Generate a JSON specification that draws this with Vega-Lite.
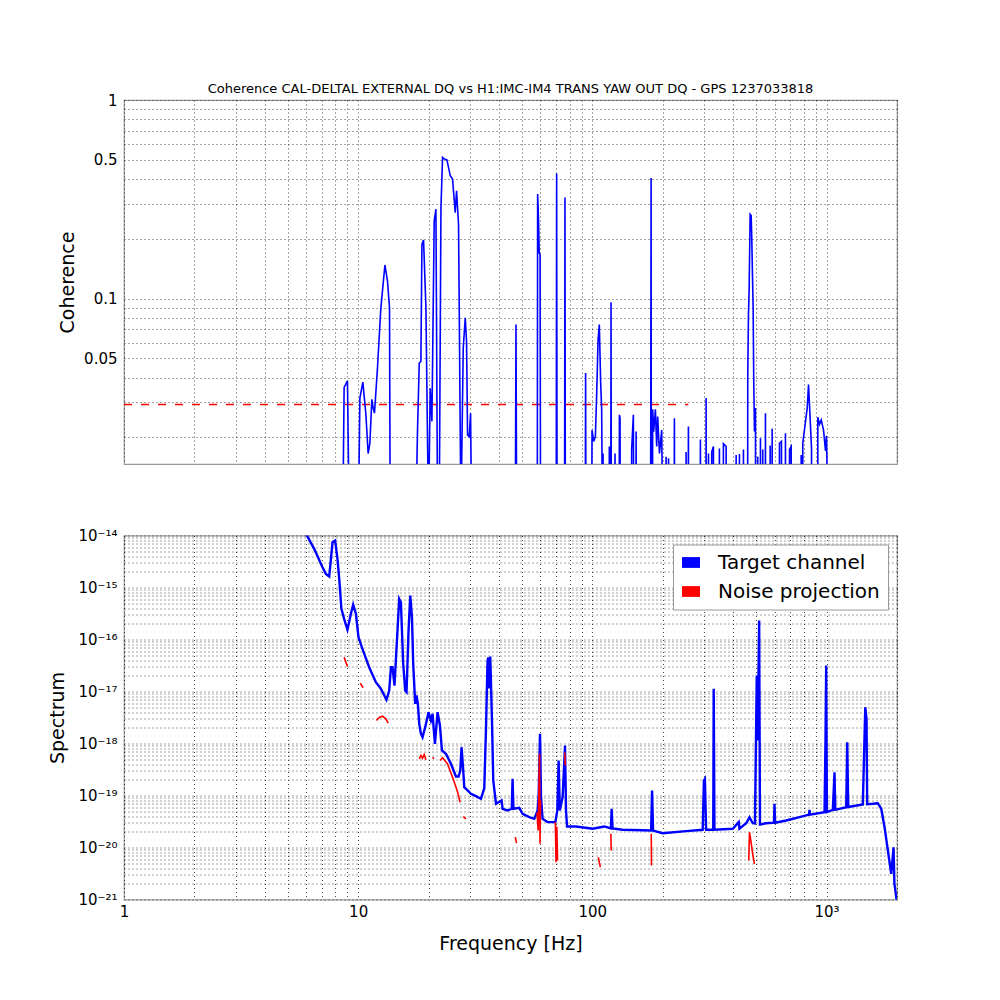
{
  "$schema": "https://vega.github.io/schema/vega-lite/v6.json",
  "padding": {"left": 48, "top": 82, "right": 5, "bottom": 5},
  "background": "white",
  "datasets": {
    "coh": [
      {"f": 1, "c": 0.008}, {"f": 8.6, "c": 0.008}, {"f": 8.71, "c": 0.0357}, {"f": 8.85, "c": 0.037}, {"f": 9.0, "c": 0.0386}, {"f": 9.15, "c": 0.008},
      {"f": 10.03, "c": 0.008}, {"f": 10.17, "c": 0.0316}, {"f": 10.47, "c": 0.038}, {"f": 10.79, "c": 0.0261}, {"f": 11.03, "c": 0.0166}, {"f": 11.22, "c": 0.0187},
      {"f": 11.44, "c": 0.0311}, {"f": 11.59, "c": 0.0281}, {"f": 11.74, "c": 0.0265}, {"f": 12.09, "c": 0.0447}, {"f": 12.5, "c": 0.0899}, {"f": 13.01, "c": 0.1477},
      {"f": 13.34, "c": 0.1226}, {"f": 13.61, "c": 0.0899}, {"f": 13.7, "c": 0.008}, {"f": 17.64, "c": 0.008}, {"f": 17.92, "c": 0.0214}, {"f": 18.23, "c": 0.0474},
      {"f": 18.53, "c": 0.0483}, {"f": 18.72, "c": 0.188}, {"f": 19.02, "c": 0.197}, {"f": 19.47, "c": 0.0899}, {"f": 19.78, "c": 0.0191}, {"f": 19.97, "c": 0.008},
      {"f": 20.31, "c": 0.0354}, {"f": 20.65, "c": 0.0241}, {"f": 21.12, "c": 0.246}, {"f": 21.48, "c": 0.282}, {"f": 21.83, "c": 0.008}, {"f": 22.19, "c": 0.008},
      {"f": 22.57, "c": 0.287}, {"f": 22.93, "c": 0.514}, {"f": 23.31, "c": 0.505}, {"f": 23.93, "c": 0.499}, {"f": 24.31, "c": 0.458}, {"f": 24.73, "c": 0.416},
      {"f": 25.29, "c": 0.4}, {"f": 25.97, "c": 0.271}, {"f": 26.31, "c": 0.349}, {"f": 26.83, "c": 0.237}, {"f": 27.47, "c": 0.008}, {"f": 28.1, "c": 0.0564},
      {"f": 28.66, "c": 0.08}, {"f": 29.03, "c": 0.061}, {"f": 29.32, "c": 0.0206}, {"f": 29.82, "c": 0.0202}, {"f": 30.2, "c": 0.0265}, {"f": 30.5, "c": 0.008},
      {"f": 46.9, "c": 0.008}, {"f": 47.2, "c": 0.0741}, {"f": 47.5, "c": 0.008},
      {"f": 58.2, "c": 0.008}, {"f": 58.4, "c": 0.336}, {"f": 58.9, "c": 0.25}, {"f": 59.3, "c": 0.17}, {"f": 59.8, "c": 0.167}, {"f": 60.1, "c": 0.008},
      {"f": 70.1, "c": 0.008}, {"f": 70.4, "c": 0.427}, {"f": 70.7, "c": 0.008},
      {"f": 76.1, "c": 0.008}, {"f": 76.4, "c": 0.323}, {"f": 76.7, "c": 0.008},
      {"f": 93.3, "c": 0.008}, {"f": 93.6, "c": 0.0422}, {"f": 93.9, "c": 0.008},
      {"f": 99.4, "c": 0.008}, {"f": 99.7, "c": 0.0218}, {"f": 101.3, "c": 0.0191}, {"f": 103.0, "c": 0.0202}, {"f": 104.3, "c": 0.0322}, {"f": 105.8, "c": 0.0622},
      {"f": 107.1, "c": 0.0741}, {"f": 108.5, "c": 0.0383}, {"f": 109.6, "c": 0.0277}, {"f": 110.4, "c": 0.008}, {"f": 111.1, "c": 0.0166}, {"f": 111.6, "c": 0.008},
      {"f": 117.9, "c": 0.008}, {"f": 118.2, "c": 0.018}, {"f": 118.6, "c": 0.008}, {"f": 119.9, "c": 0.008}, {"f": 120.2, "c": 0.096}, {"f": 120.5, "c": 0.008},
      {"f": 124.7, "c": 0.008}, {"f": 125.0, "c": 0.0166}, {"f": 125.3, "c": 0.008},
      {"f": 130.2, "c": 0.008}, {"f": 130.5, "c": 0.026}, {"f": 131.3, "c": 0.025}, {"f": 131.6, "c": 0.008},
      {"f": 146.9, "c": 0.008}, {"f": 147.2, "c": 0.0174}, {"f": 149.7, "c": 0.026}, {"f": 150.2, "c": 0.008}, {"f": 153.5, "c": 0.008}, {"f": 153.8, "c": 0.0214}, {"f": 154.1, "c": 0.008},
      {"f": 177.3, "c": 0.008}, {"f": 177.6, "c": 0.024}, {"f": 178.2, "c": 0.405}, {"f": 178.6, "c": 0.008},
      {"f": 180.7, "c": 0.008}, {"f": 181.0, "c": 0.0277}, {"f": 182.8, "c": 0.0214}, {"f": 185.9, "c": 0.0277}, {"f": 188.3, "c": 0.018}, {"f": 190.1, "c": 0.0255},
      {"f": 193.5, "c": 0.0166}, {"f": 197.8, "c": 0.0218}, {"f": 199.7, "c": 0.008},
      {"f": 206, "c": 0.008}, {"f": 206.5, "c": 0.016}, {"f": 207, "c": 0.008}, {"f": 211, "c": 0.008}, {"f": 211.5, "c": 0.0157}, {"f": 212, "c": 0.008},
      {"f": 223.6, "c": 0.008}, {"f": 224.1, "c": 0.025}, {"f": 224.6, "c": 0.008},
      {"f": 251, "c": 0.008}, {"f": 251.4, "c": 0.0169}, {"f": 251.8, "c": 0.008}, {"f": 256.8, "c": 0.008}, {"f": 257.2, "c": 0.0227}, {"f": 257.6, "c": 0.008},
      {"f": 289, "c": 0.008}, {"f": 289.4, "c": 0.0195}, {"f": 289.8, "c": 0.008},
      {"f": 305.7, "c": 0.008}, {"f": 306.1, "c": 0.0316}, {"f": 306.5, "c": 0.008}, {"f": 313, "c": 0.008}, {"f": 313.3, "c": 0.0166}, {"f": 313.7, "c": 0.008},
      {"f": 323, "c": 0.008}, {"f": 323.5, "c": 0.0169}, {"f": 328.9, "c": 0.018}, {"f": 329.3, "c": 0.008},
      {"f": 348.5, "c": 0.008}, {"f": 348.9, "c": 0.0176}, {"f": 349.3, "c": 0.008},
      {"f": 362.5, "c": 0.008}, {"f": 362.9, "c": 0.0186}, {"f": 372.7, "c": 0.018}, {"f": 373.1, "c": 0.008},
      {"f": 411, "c": 0.008}, {"f": 411.3, "c": 0.0163}, {"f": 411.7, "c": 0.008}, {"f": 424.5, "c": 0.008}, {"f": 424.8, "c": 0.0165}, {"f": 425.1, "c": 0.008},
      {"f": 441.5, "c": 0.008}, {"f": 441.9, "c": 0.0174}, {"f": 442.3, "c": 0.008},
      {"f": 460.5, "c": 0.008}, {"f": 461.0, "c": 0.0414}, {"f": 464.2, "c": 0.0832}, {"f": 467.4, "c": 0.1134}, {"f": 472.0, "c": 0.266}, {"f": 476.7, "c": 0.262},
      {"f": 479.5, "c": 0.203}, {"f": 482.8, "c": 0.1325}, {"f": 486.1, "c": 0.0899}, {"f": 489.0, "c": 0.0383}, {"f": 492.4, "c": 0.0214}, {"f": 497.2, "c": 0.0281}, {"f": 498, "c": 0.008},
      {"f": 508.2, "c": 0.008}, {"f": 508.6, "c": 0.016}, {"f": 509, "c": 0.008},
      {"f": 521.9, "c": 0.008}, {"f": 522.3, "c": 0.0198}, {"f": 522.7, "c": 0.008},
      {"f": 534, "c": 0.008}, {"f": 534.3, "c": 0.0174}, {"f": 535, "c": 0.008}, {"f": 548.2, "c": 0.008}, {"f": 548.6, "c": 0.0265}, {"f": 549, "c": 0.008},
      {"f": 574.2, "c": 0.008}, {"f": 574.6, "c": 0.0182}, {"f": 575, "c": 0.008}, {"f": 585.6, "c": 0.008}, {"f": 586.0, "c": 0.0221}, {"f": 586.4, "c": 0.008},
      {"f": 629.3, "c": 0.008}, {"f": 629.7, "c": 0.0187}, {"f": 642.2, "c": 0.0191}, {"f": 642.6, "c": 0.008},
      {"f": 667.5, "c": 0.008}, {"f": 667.9, "c": 0.021}, {"f": 668.3, "c": 0.008},
      {"f": 694.7, "c": 0.008}, {"f": 695.1, "c": 0.0174}, {"f": 706.6, "c": 0.018}, {"f": 707, "c": 0.008},
      {"f": 779.4, "c": 0.008}, {"f": 779.8, "c": 0.0163}, {"f": 780.5, "c": 0.008}, {"f": 791.4, "c": 0.008}, {"f": 792, "c": 0.0187},
      {"f": 813.5, "c": 0.0241}, {"f": 827.2, "c": 0.0281}, {"f": 837.9, "c": 0.0369},
      {"f": 848.6, "c": 0.027}, {"f": 863, "c": 0.0176}, {"f": 863.5, "c": 0.008},
      {"f": 917.8, "c": 0.008}, {"f": 918.2, "c": 0.0253}, {"f": 933.7, "c": 0.0233}, {"f": 949.6, "c": 0.0245}, {"f": 971.1, "c": 0.0218}, {"f": 990.3, "c": 0.0171},
      {"f": 1000, "c": 0.0204}, {"f": 1013, "c": 0.008}, {"f": 2000, "c": 0.008}
    ],
    "thr": [
      {"f": 1, "c": 0.0293}, {"f": 257, "c": 0.0293}
    ],
    "spec": [
      {"f": 1, "s": 1e-12}, {"f": 5.38, "s": 1.94e-14}, {"f": 6.07, "s": 9.6e-15}, {"f": 6.49, "s": 5.55e-15}, {"f": 7.04, "s": 2.45e-15}, {"f": 7.28, "s": 1.83e-15},
      {"f": 7.52, "s": 1.63e-15}, {"f": 7.64, "s": 3.31e-15}, {"f": 7.77, "s": 7.43e-15}, {"f": 7.97, "s": 8.0e-15}, {"f": 8.16, "s": 3.56e-15}, {"f": 8.29, "s": 1.58e-15},
      {"f": 8.48, "s": 3.89e-16}, {"f": 8.71, "s": 2.5e-16}, {"f": 9.0, "s": 1.54e-16}, {"f": 9.31, "s": 3.12e-16}, {"f": 9.52, "s": 4.71e-16}, {"f": 9.78, "s": 3.12e-16},
      {"f": 10.03, "s": 1.11e-16}, {"f": 10.43, "s": 6.62e-17}, {"f": 11.14, "s": 2.93e-17}, {"f": 11.9, "s": 1.51e-17}, {"f": 12.5, "s": 1.13e-17}, {"f": 13.21, "s": 6.92e-18},
      {"f": 13.57, "s": 1.04e-17}, {"f": 13.8, "s": 2.93e-17}, {"f": 14.02, "s": 2.93e-17}, {"f": 14.29, "s": 1.3e-17}, {"f": 14.72, "s": 1.49e-16}, {"f": 14.97, "s": 6.06e-16},
      {"f": 15.22, "s": 5.21e-16}, {"f": 15.57, "s": 3.41e-17}, {"f": 15.88, "s": 1.04e-17}, {"f": 16.09, "s": 9.7e-18}, {"f": 16.41, "s": 1.49e-16}, {"f": 16.69, "s": 7.02e-16},
      {"f": 16.97, "s": 2.69e-16}, {"f": 17.18, "s": 3.41e-17}, {"f": 17.52, "s": 5.79e-18}, {"f": 17.75, "s": 8.37e-18}, {"f": 17.99, "s": 5.79e-18}, {"f": 18.23, "s": 2.39e-18},
      {"f": 18.53, "s": 1.54e-18}, {"f": 18.83, "s": 1.32e-18}, {"f": 19.33, "s": 2.06e-18}, {"f": 19.97, "s": 4.0e-18}, {"f": 20.45, "s": 2.77e-18}, {"f": 20.78, "s": 3.72e-18},
      {"f": 21.27, "s": 9.86e-19}, {"f": 21.83, "s": 4.0e-18}, {"f": 22.34, "s": 2.22e-18}, {"f": 22.79, "s": 7.33e-19}, {"f": 23.7, "s": 6.33e-19}, {"f": 24.9, "s": 4.07e-19},
      {"f": 26.16, "s": 2.32e-19}, {"f": 26.83, "s": 2.32e-19}, {"f": 27.29, "s": 3.03e-19}, {"f": 27.64, "s": 8.49e-19}, {"f": 28.1, "s": 3.03e-19}, {"f": 28.38, "s": 1.45e-19},
      {"f": 29.32, "s": 1.25e-19}, {"f": 30.31, "s": 1.08e-19}, {"f": 31.84, "s": 9.7e-20}, {"f": 33.45, "s": 8.65e-20}, {"f": 34.32, "s": 1.25e-19}, {"f": 34.55, "s": 1.35e-19},
      {"f": 35.13, "s": 1.78e-18}, {"f": 35.69, "s": 3.94e-17}, {"f": 35.94, "s": 4.51e-17}, {"f": 36.29, "s": 1.14e-17}, {"f": 36.65, "s": 4.71e-17}, {"f": 37.27, "s": 2.77e-18},
      {"f": 37.75, "s": 1.94e-19}, {"f": 38.78, "s": 6.92e-20}, {"f": 40.97, "s": 8.01e-20}, {"f": 41.38, "s": 5.55e-20}, {"f": 43.45, "s": 5.15e-20}, {"f": 45.29, "s": 5.55e-20},
      {"f": 45.64, "s": 2.09e-19}, {"f": 46.04, "s": 5.55e-20}, {"f": 48.75, "s": 5.8e-20}, {"f": 50.36, "s": 4.44e-20}, {"f": 53.81, "s": 3.83e-20}, {"f": 56.5, "s": 3.56e-20},
      {"f": 58.38, "s": 5.15e-20}, {"f": 58.96, "s": 9.27e-20}, {"f": 59.78, "s": 1.54e-18}, {"f": 60.37, "s": 9.27e-20}, {"f": 61.32, "s": 3.56e-20}, {"f": 64.41, "s": 3.07e-20},
      {"f": 69.5, "s": 3.07e-20}, {"f": 70.87, "s": 5.15e-20}, {"f": 71.78, "s": 4.71e-19}, {"f": 72.63, "s": 5.15e-20}, {"f": 74.67, "s": 9.27e-20}, {"f": 76.44, "s": 9.16e-19},
      {"f": 77.2, "s": 5.15e-20}, {"f": 77.97, "s": 2.54e-20}, {"f": 85.18, "s": 2.54e-20}, {"f": 100.3, "s": 2.29e-20}, {"f": 112.5, "s": 2.54e-20}, {"f": 120.0, "s": 2.32e-20},
      {"f": 120.9, "s": 5.55e-20}, {"f": 122.0, "s": 2.32e-20}, {"f": 134.8, "s": 2.19e-20}, {"f": 178.2, "s": 2.12e-20}, {"f": 179.9, "s": 1.25e-19}, {"f": 181.7, "s": 2.12e-20},
      {"f": 199.7, "s": 1.88e-20}, {"f": 251.4, "s": 2.06e-20}, {"f": 296.0, "s": 2.19e-20}, {"f": 299.5, "s": 1.94e-19}, {"f": 302.5, "s": 2.09e-19}, {"f": 306.1, "s": 2.2e-20},
      {"f": 328.3, "s": 2.2e-20}, {"f": 329.9, "s": 1.13e-17}, {"f": 332.2, "s": 2.2e-20}, {"f": 397.8, "s": 2.29e-20}, {"f": 421.9, "s": 3.07e-20}, {"f": 424.8, "s": 2.3e-20},
      {"f": 453.9, "s": 2.93e-20}, {"f": 468.9, "s": 3.83e-20}, {"f": 484.2, "s": 2.93e-20}, {"f": 494.8, "s": 2.9e-20}, {"f": 499.7, "s": 1.14e-18}, {"f": 503.7, "s": 2.03e-17},
      {"f": 508.2, "s": 1.14e-18}, {"f": 515.7, "s": 2.32e-16}, {"f": 519.8, "s": 2.77e-20}, {"f": 552.4, "s": 2.93e-20}, {"f": 596.6, "s": 3.0e-20}, {"f": 599.5, "s": 6.92e-20},
      {"f": 603.6, "s": 3.0e-20}, {"f": 672.6, "s": 3.3e-20}, {"f": 766.6, "s": 3.83e-20}, {"f": 842.0, "s": 4.3e-20}, {"f": 846.2, "s": 5.31e-20}, {"f": 850.5, "s": 4.3e-20},
      {"f": 980.6, "s": 4.77e-20}, {"f": 990.2, "s": 1.14e-18}, {"f": 997, "s": 3.16e-17}, {"f": 1004, "s": 4.8e-20}, {"f": 1064, "s": 5.31e-20}, {"f": 1082, "s": 2.8e-19},
      {"f": 1090, "s": 5.3e-20}, {"f": 1214, "s": 5.96e-20}, {"f": 1226, "s": 1.06e-18}, {"f": 1238, "s": 6e-20}, {"f": 1429, "s": 6.71e-20}, {"f": 1464, "s": 4.99e-18},
      {"f": 1482, "s": 2.99e-18}, {"f": 1492, "s": 6.8e-20}, {"f": 1578, "s": 6.92e-20}, {"f": 1657, "s": 7.11e-20}, {"f": 1713, "s": 5.55e-20}, {"f": 1770, "s": 2.45e-20},
      {"f": 1828, "s": 8.75e-21}, {"f": 1890, "s": 3.12e-21}, {"f": 1933, "s": 1.01e-20}, {"f": 1950, "s": 2e-21}, {"f": 1986, "s": 1.1e-21}, {"f": 2000, "s": 5e-22}
    ],
    "noise": [
      {"seg": 1, "f": 8.71, "s": 4.57e-17}, {"seg": 1, "f": 9.0, "s": 3.03e-17},
      {"seg": 2, "f": 10.2, "s": 1.45e-17}, {"seg": 2, "f": 10.5, "s": 1.18e-17},
      {"seg": 3, "f": 11.97, "s": 2.77e-18}, {"seg": 3, "f": 12.3, "s": 3.16e-18}, {"seg": 3, "f": 12.7, "s": 3.35e-18}, {"seg": 3, "f": 13.13, "s": 2.99e-18}, {"seg": 3, "f": 13.43, "s": 2.46e-18},
      {"seg": 4, "f": 18.23, "s": 5.08e-19}, {"seg": 4, "f": 18.53, "s": 5.88e-19}, {"seg": 4, "f": 18.83, "s": 5.2e-19}, {"seg": 4, "f": 19.14, "s": 6.14e-19}, {"seg": 4, "f": 19.47, "s": 4.86e-19},
      {"seg": 5, "f": 20.78, "s": 5.46e-19}, {"seg": 5, "f": 21.07, "s": 5.08e-19},
      {"seg": 6, "f": 22.34, "s": 4.71e-19}, {"seg": 6, "f": 22.93, "s": 5.31e-19}, {"seg": 6, "f": 24.07, "s": 4.07e-19}, {"seg": 6, "f": 25.29, "s": 2.25e-19}, {"seg": 6, "f": 26.16, "s": 1.45e-19},
      {"seg": 6, "f": 26.83, "s": 1.0e-19}, {"seg": 6, "f": 27.21, "s": 7.43e-20},
      {"seg": 7, "f": 28.1, "s": 3.94e-20}, {"seg": 7, "f": 28.86, "s": 3.56e-20},
      {"seg": 8, "f": 46.87, "s": 1.58e-20}, {"seg": 8, "f": 47.48, "s": 1.21e-20},
      {"seg": 9, "f": 58.03, "s": 4.71e-20}, {"seg": 9, "f": 58.7, "s": 2.12e-20}, {"seg": 9, "f": 59.48, "s": 6.33e-19}, {"seg": 9, "f": 59.78, "s": 1.18e-20}, {"seg": 9, "f": 60.1, "s": 8e-20},
      {"seg": 10, "f": 69.5, "s": 3.07e-20}, {"seg": 10, "f": 69.96, "s": 5.21e-21}, {"seg": 10, "f": 70.5, "s": 2.5e-20}, {"seg": 10, "f": 71.08, "s": 5.62e-21},
      {"seg": 11, "f": 76.2, "s": 6.71e-19}, {"seg": 11, "f": 76.7, "s": 3.78e-19},
      {"seg": 12, "f": 106.1, "s": 6.5e-21}, {"seg": 12, "f": 107.1, "s": 5.15e-21}, {"seg": 12, "f": 108.2, "s": 4.18e-21},
      {"seg": 13, "f": 120.0, "s": 1.83e-20}, {"seg": 13, "f": 120.4, "s": 8.75e-21},
      {"seg": 14, "f": 178.5, "s": 1.83e-20}, {"seg": 14, "f": 178.9, "s": 4.51e-21},
      {"seg": 15, "f": 465.5, "s": 5.62e-21}, {"seg": 15, "f": 468.9, "s": 1.97e-20}, {"seg": 15, "f": 475.2, "s": 1.36e-20}, {"seg": 15, "f": 482.8, "s": 8e-21}, {"seg": 15, "f": 492.4, "s": 4.86e-21}
    ]
  },
  "vconcat": [
    {
      "width": 773,
      "height": 364,
      "title": {
        "text": "Coherence CAL-DELTAL EXTERNAL DQ vs H1:IMC-IM4 TRANS YAW OUT DQ - GPS 1237033818",
        "fontSize": 13, "fontWeight": "normal", "font": "DejaVu Sans", "color": "black", "offset": -3
      },
      "encoding": {
        "x": {
          "field": "f", "type": "quantitative",
          "scale": {"type": "log", "domain": [1, 2000], "nice": false},
          "axis": {
            "values": [1, 2, 3, 4, 5, 6, 7, 8, 9, 10, 20, 30, 40, 50, 60, 70, 80, 90, 100, 200, 300, 400, 500, 600, 700, 800, 900, 1000, 2000],
            "labels": false, "ticks": false, "title": null
          }
        },
        "y": {
          "field": "c", "type": "quantitative",
          "scale": {"type": "log", "domain": [0.0147, 1], "nice": false},
          "axis": {
            "values": [0.02, 0.03, 0.04, 0.05, 0.06, 0.07, 0.08, 0.09, 0.1, 0.2, 0.3, 0.4, 0.5, 0.6, 0.7, 0.8, 0.9, 1],
            "labelExpr": "datum.value == 1 ? '1' : datum.value == 0.5 ? '0.5' : datum.value == 0.1 ? '0.1' : datum.value == 0.05 ? '0.05' : ''",
            "title": "Coherence", "titlePadding": 6
          }
        }
      },
      "layer": [
        {
          "data": {"name": "thr"},
          "mark": {"type": "line", "color": "red", "strokeWidth": 1.3, "strokeDash": [8, 9], "clip": true}
        },
        {
          "data": {"name": "coh"},
          "mark": {"type": "line", "color": "blue", "strokeWidth": 1.6, "clip": true}
        }
      ]
    },
    {
      "width": 773,
      "height": 364,
      "encoding": {
        "x": {
          "field": "f", "type": "quantitative",
          "scale": {"type": "log", "domain": [1, 2000], "nice": false},
          "axis": {
            "values": [1, 2, 3, 4, 5, 6, 7, 8, 9, 10, 20, 30, 40, 50, 60, 70, 80, 90, 100, 200, 300, 400, 500, 600, 700, 800, 900, 1000, 2000],
            "labelExpr": "datum.value == 1 ? '1' : datum.value == 10 ? '10' : datum.value == 100 ? '100' : datum.value == 1000 ? '10³' : ''",
            "ticks": false, "labelPadding": 5,
            "title": "Frequency [Hz]", "titlePadding": 15
          }
        },
        "y": {
          "field": "s", "type": "quantitative",
          "scale": {"type": "log", "domain": [1e-21, 1e-14], "nice": false},
          "axis": {
            "values": [
              1e-21, 2e-21, 3e-21, 4e-21, 5e-21, 6e-21, 7e-21, 8e-21, 9e-21,
              1e-20, 2e-20, 3e-20, 4e-20, 5e-20, 6e-20, 7e-20, 8e-20, 9e-20,
              1e-19, 2e-19, 3e-19, 4e-19, 5e-19, 6e-19, 7e-19, 8e-19, 9e-19,
              1e-18, 2e-18, 3e-18, 4e-18, 5e-18, 6e-18, 7e-18, 8e-18, 9e-18,
              1e-17, 2e-17, 3e-17, 4e-17, 5e-17, 6e-17, 7e-17, 8e-17, 9e-17,
              1e-16, 2e-16, 3e-16, 4e-16, 5e-16, 6e-16, 7e-16, 8e-16, 9e-16,
              1e-15, 2e-15, 3e-15, 4e-15, 5e-15, 6e-15, 7e-15, 8e-15, 9e-15,
              1e-14
            ],
            "labelExpr": "datum.value == 1e-14 ? '10⁻¹⁴' : datum.value == 1e-15 ? '10⁻¹⁵' : datum.value == 1e-16 ? '10⁻¹⁶' : datum.value == 1e-17 ? '10⁻¹⁷' : datum.value == 1e-18 ? '10⁻¹⁸' : datum.value == 1e-19 ? '10⁻¹⁹' : datum.value == 1e-20 ? '10⁻²⁰' : datum.value == 1e-21 ? '10⁻²¹' : ''",
            "title": "Spectrum", "titlePadding": 10
          }
        },
        "color": {
          "scale": {"domain": ["Target channel", "Noise projection"], "range": ["blue", "red"]},
          "legend": {
            "title": null, "orient": "top-right", "offset": 9,
            "symbolType": "M-1,-0.6H1V0.6H-1Z", "symbolSize": 324, "symbolStrokeWidth": 0,
            "labelFontSize": 20, "labelFont": "DejaVu Sans", "labelColor": "black", "labelOffset": 17, "labelLimit": 300,
            "labelExpr": "datum.label + '\u00a0\u00a0'",
            "rowPadding": 9, "padding": 8, "strokeColor": "#999", "fillColor": "white",
            "encode": {
              "symbols": {
                "update": {
                  "fill": [{"test": "datum.value === 'Target channel'", "value": "blue"}, {"value": "red"}],
                  "stroke": {"value": "transparent"},
                  "strokeWidth": {"value": 0},
                  "opacity": {"value": 1}
                }
              }
            }
          }
        }
      },
      "layer": [
        {
          "data": {"name": "spec"},
          "mark": {"type": "line", "strokeWidth": 2.4, "clip": true},
          "encoding": {"color": {"datum": "Target channel"}}
        },
        {
          "data": {"name": "noise"},
          "mark": {"type": "line", "strokeWidth": 1.6, "clip": true},
          "encoding": {"color": {"datum": "Noise projection"}, "detail": {"field": "seg", "type": "nominal"}}
        }
      ]
    }
  ],
  "spacing": 71.5,
  "bounds": "flush",
  "resolve": {"scale": {"color": "independent"}, "legend": {"color": "independent"}},
  "config": {
    "view": {"stroke": "#999", "strokeWidth": 1.2},
    "axis": {
      "domain": false, "grid": true, "gridColor": "black", "gridDash": [1, 3], "gridOpacity": 0.9, "gridWidth": 0.8,
      "labelFont": "DejaVu Sans", "labelFontSize": 15, "labelColor": "black", "labelOverlap": false, "labelPadding": 7, "labelFlush": false, "ticks": false,
      "titleFont": "DejaVu Sans", "titleFontSize": 19, "titleFontWeight": "normal", "titleColor": "black"
    }
  }
}
